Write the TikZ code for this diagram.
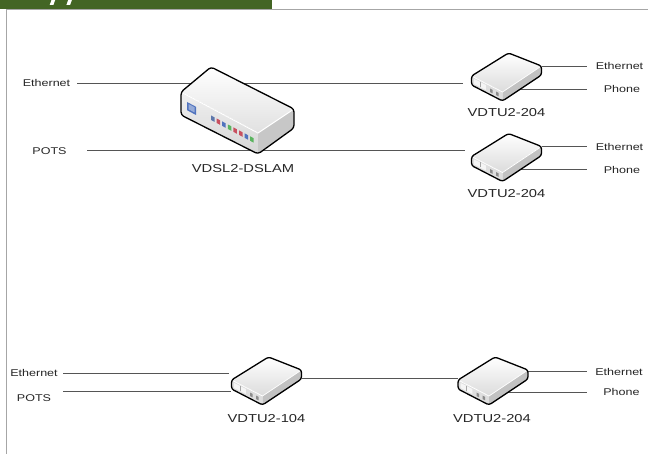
\documentclass[tikz,border=0pt]{standalone}
\usepackage{fontspec}
\setmainfont{Liberation Sans}
\definecolor{bannergreen}{RGB}{67,101,36}
\definecolor{wiregray}{RGB}{85,85,85}
\definecolor{ledblue}{RGB}{80,115,190}
\definecolor{ledred}{RGB}{200,80,95}
\definecolor{ledgreen}{RGB}{90,180,95}
\newcommand\wide[1]{\scalebox{1.28}[1]{#1}}
\tikzset{
  wire/.style={draw=wiregray, line width=0.9pt},
  sidelabel/.style={font=\fontsize{9.8}{11}\selectfont, text=black!85, inner sep=0pt},
  devlabel/.style={font=\fontsize{11.5}{13}\selectfont, text=black!85, inner sep=0pt},
  outline/.style={draw=black, line width=1.3pt, rounded corners=2.5pt, line join=round},
  % small customer unit, drawn around its back (top) corner
  vdtu/.pic={
    \begin{scope}
      \clip[rounded corners=2.5pt] (-37,23) -- (0,0) -- (33,13) -- (33,22) -- (-6,48) -- (-37,32) -- cycle;
      \fill[top color=white, bottom color=black!14] (-37,23) -- (0,0) -- (33,13) -- (-6,39) -- cycle;
      \fill[black!13] (-37,23) -- (-6,39) -- (-6,48) -- (-37,32) -- cycle;
      \fill[black!24] (-6,39) -- (33,13) -- (33,22) -- (-6,48) -- cycle;
      % port openings on the front face
      \fill[black!4] (-34.4,26) -- (-22.6,32) -- (-22.6,37) -- (-34.4,31) -- cycle;
      \draw[black!35, line width=0.4pt] (-28.5,29) -- (-28.5,34);
      \fill[black!45] (-18.5,35.5) -- (-16,36.8) -- (-16,40.3) -- (-18.5,39) -- cycle;
      \fill[black!45] (-12.5,38.5) -- (-10,39.8) -- (-10,43.3) -- (-12.5,42) -- cycle;
      \draw[white, line width=0.8pt] (-37,23) -- (-6,39) -- (33,13);
    \end{scope}
    \draw[outline] (-37,23) -- (0,0) -- (33,13) -- (33,22) -- (-6,48) -- (-37,32) -- cycle;
  }
}
\begin{document}
\begin{tikzpicture}[x=1pt,y=-1pt]
\useasboundingbox (0,0) rectangle (648,454);
\fill[white] (0,0) rectangle (648,454);

% header strip and frame
\fill[bannergreen] (0,0) rectangle (272,8.7);
\fill[white] (51.5,0) -- (55.2,0) -- (53.4,5) -- (49.7,5) -- cycle;
\fill[white] (68.2,0) -- (71.9,0) -- (70.1,5) -- (66.4,5) -- cycle;
\draw[black!35, line width=1pt] (6.5,454) -- (6.5,10) -- (648,10);

% ---------- labels ----------
\node[sidelabel] (ethA)  at (46.5,83)  {\wide{Ethernet}};
\node[sidelabel] (potsA) at (49.5,151) {\wide{POTS}};
\node[devlabel]  (dslamL) at (243,169) {\wide{VDSL2-DSLAM}};
\node[devlabel]  (u1L) at (506.5,113)  {\wide{VDTU2-204}};
\node[devlabel]  (u2L) at (506.5,193.5){\wide{VDTU2-204}};
\node[sidelabel] (u1E) at (619.5,66)   {\wide{Ethernet}};
\node[sidelabel] (u1P) at (622,89.3)   {\wide{Phone}};
\node[sidelabel] (u2E) at (619.5,146.5){\wide{Ethernet}};
\node[sidelabel] (u2P) at (622,169.5)  {\wide{Phone}};
\node[sidelabel] (ethB)  at (34,373)   {\wide{Ethernet}};
\node[sidelabel] (potsB) at (34,398)   {\wide{POTS}};
\node[devlabel]  (u3L) at (266.5,419)  {\wide{VDTU2-104}};
\node[devlabel]  (u4L) at (492,419)    {\wide{VDTU2-204}};
\node[sidelabel] (u4E) at (619,371.5)  {\wide{Ethernet}};
\node[sidelabel] (u4P) at (621.5,392)  {\wide{Phone}};

% ---------- connection points ----------
\coordinate (ethAend)  at (77,83);
\coordinate (potsAend) at (87,150.5);
\coordinate (u1in)  at (463,83);
\coordinate (u2in)  at (465,150.5);
\coordinate (u1Eo)  at (541.5,66);   \coordinate (u1Ee) at (587,66);
\coordinate (u1Po)  at (512,89.3);   \coordinate (u1Pe) at (587,89.3);
\coordinate (u2Eo)  at (541.5,146.5);\coordinate (u2Ee) at (587,146.5);
\coordinate (u2Po)  at (512,169.5);  \coordinate (u2Pe) at (587,169.5);
\coordinate (ethBend)  at (63,373.3);  \coordinate (u3inE) at (229,373.3);
\coordinate (potsBend) at (63,391);    \coordinate (u3inP) at (231,391);
\coordinate (u3out) at (302,378.5);  \coordinate (u4in) at (458,378.5);
\coordinate (u4Eo)  at (528,371.5);  \coordinate (u4Ee) at (587,371.5);
\coordinate (u4Po)  at (500,392);    \coordinate (u4Pe) at (587,392);

% ---------- wires (devices are drawn over them) ----------
\draw[wire] (ethAend) -- (u1in);
\draw[wire] (potsAend) -- (u2in);
\draw[wire] (u1Eo) -- (u1Ee);
\draw[wire] (u1Po) -- (u1Pe);
\draw[wire] (u2Eo) -- (u2Ee);
\draw[wire] (u2Po) -- (u2Pe);
\draw[wire] (ethBend) -- (u3inE);
\draw[wire] (potsBend) -- (u3inP);
\draw[wire] (u3out) -- (u4in);
\draw[wire] (u4Eo) -- (u4Ee);
\draw[wire] (u4Po) -- (u4Pe);

% ---------- DSLAM chassis ----------
\begin{scope}
  \clip[rounded corners=3pt] (181,92) -- (211,67) -- (294,109) -- (294,128) -- (258,154) -- (181,115) -- cycle;
  \fill[top color=white, bottom color=black!12] (181,92) -- (211,67) -- (294,109) -- (258,133) -- cycle;
  \fill[top color=black!6, bottom color=black!16] (181,92) -- (258,133) -- (258,154) -- (181,115) -- cycle;
  \fill[black!22] (258,133) -- (294,109) -- (294,128) -- (258,154) -- cycle;
  \draw[white, line width=1pt] (181,92) -- (258,133) -- (294,109);
\end{scope}
% status panel
\fill[ledblue] (187,102) -- (196,106.8) -- (196,115) -- (187,110.2) -- cycle;
\fill[ledblue!60!white] (188.5,104) -- (194.5,107.2) -- (194.5,112.5) -- (188.5,109.3) -- cycle;
\foreach \i/\c in {0/ledblue!70!gray,1/ledred,2/ledblue,3/ledgreen,4/ledred,5/ledred,6/ledblue,7/ledgreen}{
  \pgfmathsetmacro\lx{211+5.6*\i}
  \pgfmathsetmacro\ly{92+0.532*(\lx-181)+7.5}
  \fill[\c] (\lx,\ly) -- ++(3.5,1.9) -- ++(0,4.5) -- ++(-3.5,-1.9) -- cycle;
}
\draw[outline, rounded corners=3pt] (181,92) -- (211,67) -- (294,109) -- (294,128) -- (258,154) -- (181,115) -- cycle;

% ---------- customer units ----------
\pic (u1) at (508.5,53)   {vdtu};
\pic (u2) at (508.5,133.5){vdtu};
\pic (u3) at (268.5,357)  {vdtu};
\pic (u4) at (495,357)    {vdtu};
\end{tikzpicture}
\end{document}
